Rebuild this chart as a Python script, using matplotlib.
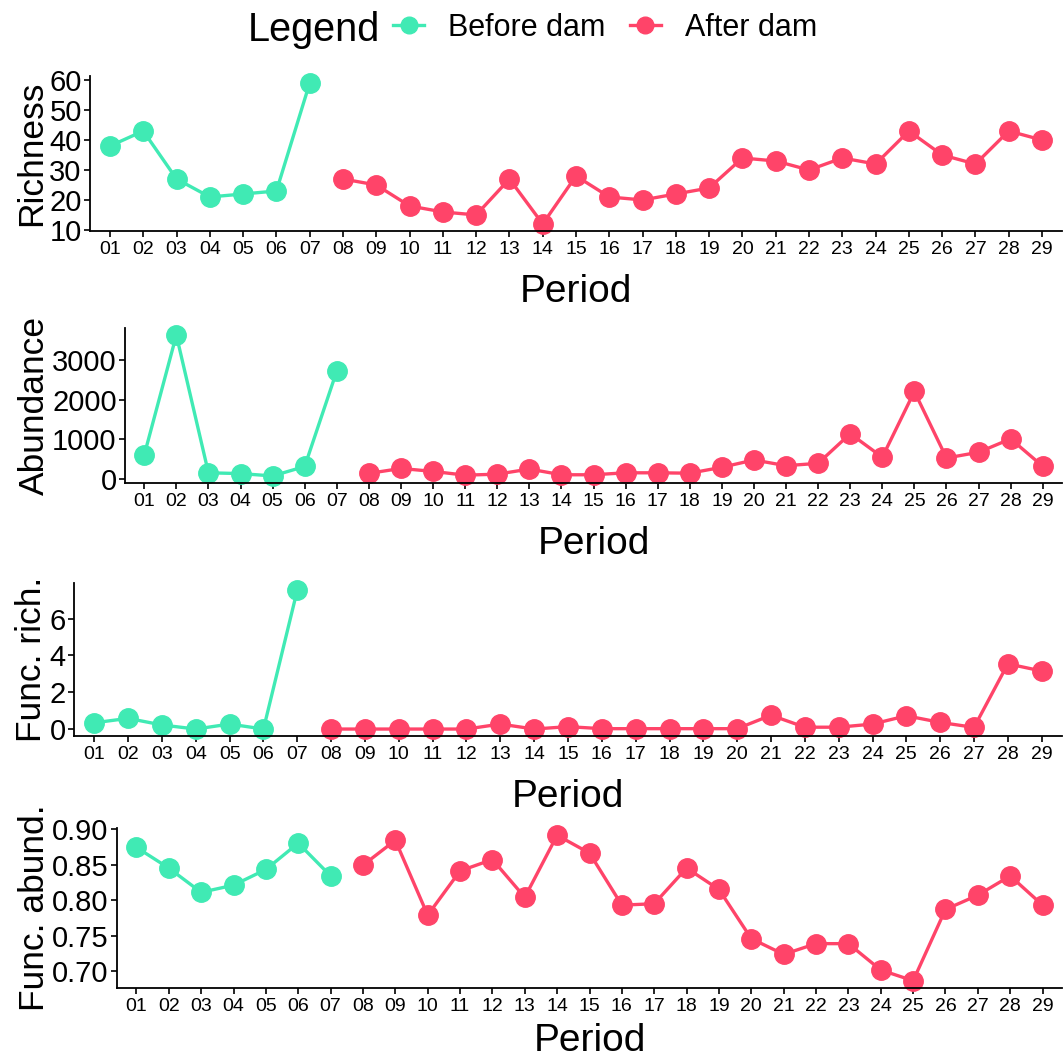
import numpy as np
import matplotlib
matplotlib.use('Agg')
import matplotlib.pyplot as plt
from matplotlib.lines import Line2D

plt.rcParams['font.family'] = ['Liberation Sans', 'DejaVu Sans']

# periods
periods = ['%02d' % i for i in range(1, 30)]
before_idx = list(range(1, 8))
after_idx = list(range(8, 30))

# series values (before dam: 01-07, after dam: 08-29)
richness_before = [38, 43, 27, 21, 22, 23, 59]
richness_after = [27, 25, 18, 16, 15, 27, 12, 28, 21, 20, 22, 24, 34, 33, 30, 34,
                  32, 43, 35, 32, 43, 40]

abundance_before = [600, 3640, 150, 130, 70, 310, 2730]
abundance_after = [135, 260, 185, 90, 115, 245, 100, 100, 150, 150, 140, 290, 475,
                   330, 390, 1140, 545, 2210, 525, 670, 1010, 315]

funcrich_before = [0.34, 0.58, 0.22, 0.0, 0.27, 0.0, 7.55]
funcrich_after = [0.0, 0.0, 0.0, 0.0, 0.0, 0.27, 0.0, 0.13, 0.02, 0.02, 0.02, 0.02,
                  0.02, 0.75, 0.1, 0.1, 0.27, 0.72, 0.36, 0.09, 3.54, 3.15]

funcabund_before = [0.874, 0.845, 0.811, 0.821, 0.843, 0.880, 0.834]
funcabund_after = [0.849, 0.884, 0.779, 0.841, 0.857, 0.804, 0.891, 0.866, 0.793,
                   0.795, 0.845, 0.815, 0.746, 0.724, 0.739, 0.739, 0.702, 0.687,
                   0.787, 0.807, 0.834, 0.793]

teal = '#40EAB4'
pink = '#FF4469'

W, H = 1063, 1064
fig = plt.figure(figsize=(W / 100, H / 100), dpi=100)

# panel settings: label, data, yticks, tick format, pixel box (left, top, bottom), xlabel pad
panels = [
    ('Richness', richness_before, richness_after, [10, 20, 30, 40, 50, 60], '%d', (90, 76, 231), 12),
    ('Abundance', abundance_before, abundance_after, [0, 1000, 2000, 3000], '%d', (125, 328, 483), 12),
    ('Func. rich.', funcrich_before, funcrich_after, [0, 2, 4, 6], '%d', (74, 583, 736), 12),
    ('Func. abund.', funcabund_before, funcabund_after, [0.70, 0.75, 0.80, 0.85, 0.90], '%.2f', (117, 828, 988), 6),
]

for label, yb, ya, yt, fmt, (L, T, B), xpad in panels:
    ax = fig.add_axes([L / W, 1 - B / H, (1062 - L) / W, (B - T) / H])
    ax.plot(before_idx, yb, color=teal, lw=2.4, marker='o', ms=14, mec=teal, clip_on=False)
    ax.plot(after_idx, ya, color=pink, lw=2.4, marker='o', ms=14, mec=pink, clip_on=False)
    ax.set_xlim(0.4, 29.6)
    allv = yb + ya
    rng = max(allv) - min(allv)
    ax.set_ylim(min(allv) - 0.05 * rng, max(allv) + 0.05 * rng)
    ax.set_xticks(range(1, 30))
    ax.set_xticklabels(periods, fontsize=14)
    ax.set_yticks(yt)
    ax.set_yticklabels([fmt % v for v in yt], fontsize=21)
    ax.set_xlabel('Period', fontsize=28, labelpad=xpad)
    ax.set_ylabel(label, fontsize=25.5, labelpad=1)
    ax.spines['top'].set_visible(False)
    ax.spines['right'].set_visible(False)
    ax.spines['left'].set_linewidth(1.3)
    ax.spines['bottom'].set_linewidth(1.3)
    ax.tick_params(axis='both', length=4, width=1.2, pad=3, colors='black')
    ax.tick_params(axis='y', pad=2)

# legend at top
fig.text(248 / W, 1 - 30 / H, 'Legend', fontsize=28.5, ha='left', va='center')
handles = [Line2D([0], [0], color=teal, lw=2.4, marker='o', ms=12, mec=teal),
           Line2D([0], [0], color=pink, lw=2.4, marker='o', ms=12, mec=pink)]
fig.legend(handles, ['Before dam', 'After dam'], loc='center left',
           bbox_to_anchor=(372 / W, 1 - 28 / H), ncol=2, frameon=False,
           fontsize=22, handlelength=1.0, handletextpad=0.8, columnspacing=0.8,
           borderpad=0.2)

fig.savefig('out.png', dpi=100)
